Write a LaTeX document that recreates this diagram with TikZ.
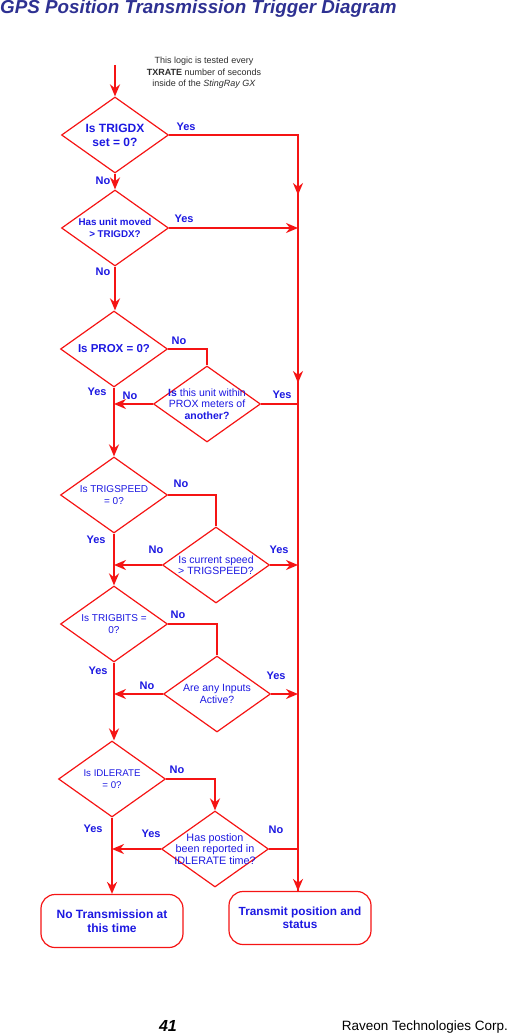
\documentclass[tikz,border=0pt]{standalone}
\usepackage{fontspec}
\setmainfont{Liberation Sans}
\usetikzlibrary{shapes.geometric,arrows.meta}

\definecolor{flowred}{RGB}{245,20,20}
\definecolor{textblue}{RGB}{28,24,225}
\definecolor{titlenavy}{RGB}{46,49,146}
\definecolor{notegray}{RGB}{45,45,45}

\tikzset{
  decision/.style={shape=diamond, draw=flowred, line width=1.2pt, inner sep=0pt,
    minimum width=107pt, minimum height=76pt},
  endbox/.style={draw=flowred, line width=1.2pt, rounded corners=14pt,
    minimum width=142pt, minimum height=53pt},
  qtext/.style={text=textblue, align=center, inner sep=0pt, font=\fontsize{10.5}{11.5}\selectfont},
  answer/.style={text=textblue, inner sep=0.75pt, font=\bfseries\fontsize{11}{12}\selectfont},
  wire/.style={draw=flowred, line width=1.3pt},
  flow/.style={draw=flowred, line width=2pt, -{Stealth[length=12pt,width=10pt]}},
}

\begin{document}
\begin{tikzpicture}[x=1pt,y=1pt,yscale=-1,xscale=1]
    \useasboundingbox (0,0) rectangle (509,1035);

    % Text Node
    \node (title) [anchor=west, inner sep=0pt, text=titlenavy, font=\bfseries\itshape\fontsize{18.8}{20}\selectfont] at (0,9) {GPS Position Transmission Trigger Diagram};
    % Text Node
    \node (note) [align=center, inner sep=0pt, text=notegray, font=\fontsize{9}{11.5}\selectfont] at (204,73) {This logic is tested every\\{\bfseries TXRATE} number of seconds\\inside of the \textit{StingRay GX}};

    %Shape: Diamond
    \node (q1) [decision] at (115,135) {};
    \node (q2) [decision] at (115,228) {};
    \node (q3) [decision] at (114,349) {};
    \node (q4) [decision] at (207,404) {};
    \node (q5) [decision] at (114,495) {};
    \node (q6) [decision] at (216,565) {};
    \node (q7) [decision] at (114,624) {};
    \node (q8) [decision] at (217,694) {};
    \node (q9) [decision] at (112,779) {};
    \node (q10) [decision] at (215,849) {};
    %Shape: Rounded Rect
    \node (nt) [endbox] at (112,921) {};
    \node (tx) [endbox] at (300,918) {};

    % Text Node
    \node (q1t) [qtext, font=\bfseries\fontsize{12}{14}\selectfont] at (q1) {Is TRIGDX\\set = 0?};
    \node (q2t) [qtext, font=\bfseries\fontsize{9.8}{12}\selectfont] at (q2) {Has unit moved\\> TRIGDX?};
    \node (q3t) [qtext, font=\bfseries\fontsize{11.5}{13}\selectfont] at (q3) {Is PROX = 0?};
    \node (q4t) [qtext] at (q4) {{\bfseries Is} this unit within\\PROX meters of\\{\bfseries another?}};
    \node (q5t) [qtext, font=\fontsize{10}{11.5}\selectfont] at (q5) {Is TRIGSPEED\\= 0?};
    \node (q6t) [qtext] at (q6) {Is current speed\\> TRIGSPEED?};
    \node (q7t) [qtext, font=\fontsize{10}{11.5}\selectfont] at (q7) {Is TRIGBITS =\\0?};
    \node (q8t) [qtext] at (q8) {Are any Inputs\\Active?};
    \node (q9t) [qtext, font=\fontsize{9.7}{11.5}\selectfont] at (q9) {Is IDLERATE\\= 0?};
    \node (q10t) [qtext, font=\fontsize{10.8}{11.5}\selectfont] at (q10) {Has postion\\been reported in\\IDLERATE time?};
    \node (ntt) [qtext, font=\bfseries\fontsize{12}{13.5}\selectfont] at (nt) {No Transmission at\\this time};
    \node (txt) [qtext, font=\bfseries\fontsize{11.8}{13.5}\selectfont] at (tx) {Transmit position and\\status};

    % Text Node
    \node (y1) [answer] at (186,127) {Yes};
    \node (n1) [answer] at (103,181) {No};
    \node (y2) [answer] at (184,219) {Yes};
    \node (n2) [answer] at (103,272) {No};
    \node (n3) [answer] at (179,341) {No};
    \node (y3) [answer] at (97,392) {Yes};
    \node (n4) [answer] at (130,396) {No};
    \node (y4) [answer] at (282,395) {Yes};
    \node (n5) [answer] at (181,484) {No};
    \node (y5) [answer] at (96,540) {Yes};
    \node (n6) [answer] at (156,550) {No};
    \node (y6) [answer] at (279,550) {Yes};
    \node (n7) [answer] at (178,615) {No};
    \node (y7) [answer] at (98,671) {Yes};
    \node (n8) [answer] at (147,686) {No};
    \node (y8) [answer] at (276,676) {Yes};
    \node (n9) [answer] at (177,770) {No};
    \node (y9) [answer] at (93,829) {Yes};
    \node (y10) [answer] at (151,834) {Yes};
    \node (n10) [answer] at (276,830) {No};

    % bus on the right
    \coordinate (start) at (115,65);
    \coordinate (bus) at (298,135);
    \coordinate (arrA) at (298,163);
    \coordinate (arrB) at (298,195);
    \coordinate (arrC) at (298,351);
    \coordinate (arrD) at (298,383);

    %Straight Lines
    \draw [flow] (start) -- (q1.north);
    \draw [wire] (q1.east) -- (bus) -- (bus |- tx.north);
    \draw [flow] (arrA) -- (arrB);
    \draw [flow] (arrC) -- (arrD);
    \draw [flow] (q10.east -| bus) -- (bus |- tx.north);

    \draw [flow] (q1.south) -- (q2.north);
    \draw [flow] (q2.east) -- (q2.east -| bus);
    \draw [flow] (q2.south) -- (q2.south |- q3.north);

    \draw [wire] (q3.east) -| (q4.north);
    \draw [flow] (q4.west) -- (q4.west -| q3.south);
    \draw [wire] (q4.east) -- (q4.east -| bus);
    \draw [flow] (q3.south) -- (q3.south |- q5.north);

    \draw [wire] (q5.east) -| (q6.north);
    \draw [flow] (q6.west) -- (q6.west -| q5.south);
    \draw [flow] (q6.east) -- (q6.east -| bus);
    \draw [flow] (q5.south) -- (q5.south |- q7.north);

    \draw [wire] (q7.east) -| (q8.north);
    \draw [flow] (q8.west) -- (q8.west -| q7.south);
    \draw [flow] (q8.east) -- (q8.east -| bus);
    \draw [flow] (q7.south) -- (q7.south |- q9.north);

    \draw [flow] (q9.east) -| (q10.north);
    \draw [flow] (q10.west) -- (q10.west -| q9.south);
    \draw [wire] (q10.east) -- (q10.east -| bus);
    \draw [flow] (q9.south) -- (q9.south |- nt.north);

    % Text Node
    \node (page) [inner sep=0pt, font=\bfseries\itshape\fontsize{16}{18}\selectfont] at (168,1026) {41};
    \node (corp) [anchor=east, inner sep=0pt, font=\fontsize{13.5}{15}\selectfont] at (508,1027) {Raveon Technologies Corp.};

\end{tikzpicture}
\end{document}
